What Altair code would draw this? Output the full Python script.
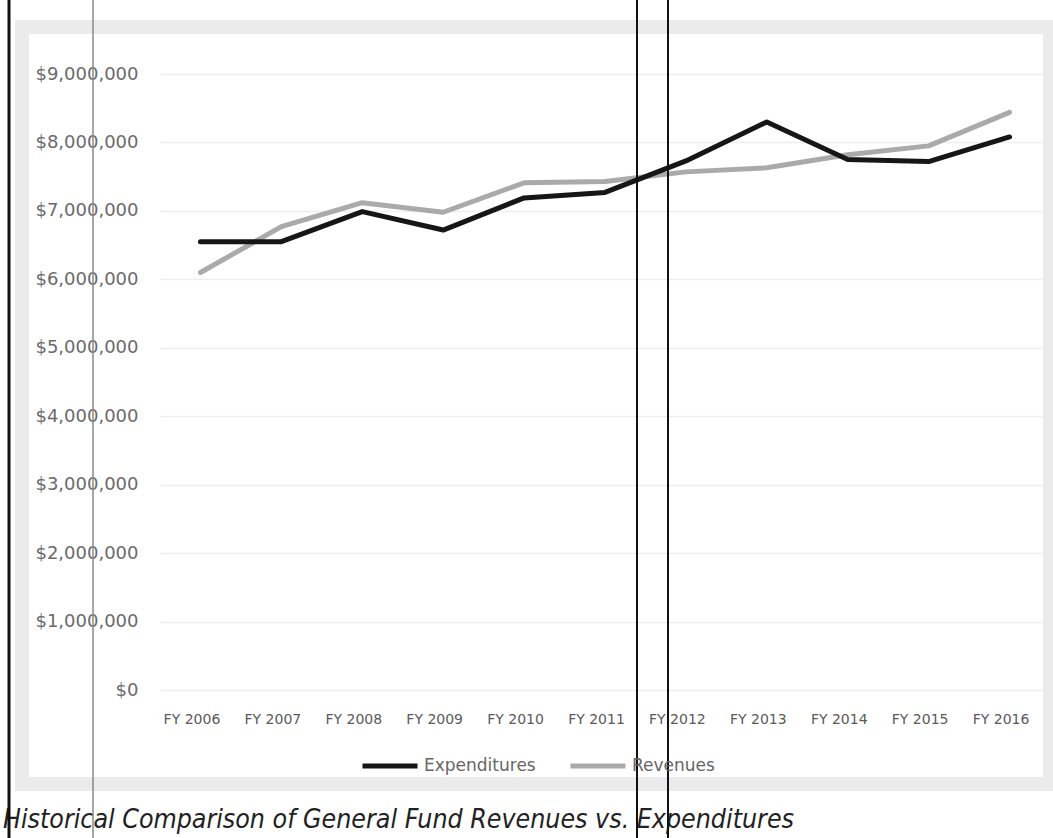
import altair as alt
import pandas as pd

# Fiscal years on the x axis
years = ["FY 2006", "FY 2007", "FY 2008", "FY 2009", "FY 2010", "FY 2011",
         "FY 2012", "FY 2013", "FY 2014", "FY 2015", "FY 2016"]

# General fund totals in dollars
expenditures = [6550000, 6550000, 6990000, 6720000, 7190000, 7270000,
                7730000, 8300000, 7750000, 7720000, 8080000]
revenues = [6100000, 6770000, 7120000, 6980000, 7410000, 7430000,
            7570000, 7630000, 7820000, 7950000, 8440000]

series_names = ["Expenditures", "Revenues"]
series_colors = ["#161616", "#aaaaaa"]
y_ticks = [0, 1000000, 2000000, 3000000, 4000000, 5000000,
           6000000, 7000000, 8000000, 9000000]
title_text = "Historical Comparison of General Fund Revenues vs. Expenditures"

rows = []
for i, yr in enumerate(years):
    rows.append({"year": yr, "series": "Revenues", "amount": revenues[i], "order": 0})
    rows.append({"year": yr, "series": "Expenditures", "amount": expenditures[i], "order": 1})
df = pd.DataFrame(rows)

PLOT_W, PLOT_H = 890, 616
LEFT, TOP = 160, 74

lines = alt.Chart(df).mark_line(strokeWidth=5, strokeJoin="round", strokeCap="round").encode(
    x=alt.X("year:N", sort=years, title=None,
            scale=alt.Scale(type="point", padding=0.5),
            axis=alt.Axis(labelAngle=0, tickSize=0, domain=False, labelPadding=22,
                          labelOffset=-9, labelFont="DejaVu Sans", labelFontSize=14,
                          labelColor="#5a5a5a", grid=False)),
    y=alt.Y("amount:Q", title=None,
            scale=alt.Scale(domain=[0, 9000000], nice=False),
            axis=alt.Axis(values=y_ticks, format="$,.0f", tickSize=0, domain=False,
                          labelPadding=22, labelFont="DejaVu Sans", labelFontSize=18,
                          labelColor="#6a6a6a", gridColor="#eeeeee", gridWidth=1.5)),
    color=alt.Color("series:N", sort=series_names,
                    scale=alt.Scale(domain=series_names, range=series_colors),
                    legend=alt.Legend(title=None, orient="none", direction="horizontal",
                                      legendX=200, legendY=662,
                                      symbolType="stroke", symbolSize=3025,
                                      symbolStrokeWidth=5, labelFont="DejaVu Sans",
                                      labelFontSize=17, labelColor="#666666",
                                      labelOffset=4, columnPadding=24)),
    detail="series:N",
    order=alt.Order("order:Q"),
)

# Light outer frame around the chart area
frame = alt.Chart(pd.DataFrame({"k": [0]})).mark_rect(
    fillOpacity=0, stroke="#ebebeb", strokeWidth=14
).encode(
    x=alt.value(22 - LEFT), x2=alt.value(1050 - LEFT),
    y=alt.value(27 - TOP), y2=alt.value(784 - TOP),
)

# Caption beneath the chart
caption = alt.Chart(pd.DataFrame({"t": [title_text]})).mark_text(
    align="left", baseline="alphabetic",
    font="DejaVu Sans Condensed, Liberation Sans, sans-serif",
    fontStyle="italic", fontSize=26.5, color="#222222"
).encode(
    x=alt.value(3 - LEFT), y=alt.value(828 - TOP), text="t:N"
)

# Vertical page rules crossing the figure
rule_specs = [(9, "#111111", 3), (93, "#8a8a8a", 1.5), (637, "#111111", 2), (668, "#111111", 2)]
rules = []
for px, col, w in rule_specs:
    rules.append(
        alt.Chart(pd.DataFrame({"k": [0]})).mark_rule(color=col, strokeWidth=w).encode(
            x=alt.value(px - LEFT), y=alt.value(-TOP), y2=alt.value(838 - TOP)
        )
    )

chart = alt.layer(frame, lines, caption, *rules).properties(
    width=PLOT_W, height=PLOT_H,
    autosize=alt.AutoSizeParams(type="none"),
    padding={"left": LEFT, "top": TOP, "right": 1053 - LEFT - PLOT_W, "bottom": 838 - TOP - PLOT_H},
    background="white",
).configure_view(strokeWidth=0)

chart.save("out.html", embed_options={"renderer": "svg", "actions": False})
